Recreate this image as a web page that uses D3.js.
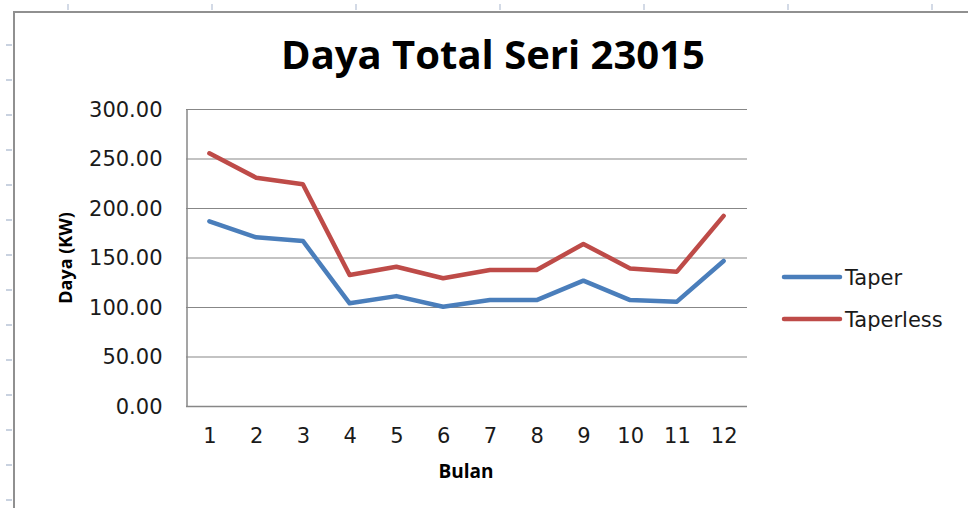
<!DOCTYPE html>
<html>
<head>
<meta charset="utf-8">
<script src="https://cdn.jsdelivr.net/npm/d3@7"></script>
<style>
  body { margin: 0; background: #fff; }
  svg { display: block; }
</style>
</head>
<body>
<svg width="968" height="508"></svg>
<script>
// data van de grafiek
var bulan = [1, 2, 3, 4, 5, 6, 7, 8, 9, 10, 11, 12];
var taper = [186.6, 170.4, 166.7, 103.7, 111.0, 100.3, 107.0, 107.0, 126.6, 107.0, 105.4, 146.5];
var taperless = [255.2, 230.6, 224.0, 132.3, 140.7, 129.0, 137.4, 137.4, 163.6, 139.0, 135.7, 192.0];
var yTicks = [0, 50, 100, 150, 200, 250, 300];
var seriesNames = ["Taper", "Taperless"];
var seriesColors = ["#4a7ebb", "#be4b48"];

var svg = d3.select("svg"),
    plot = { left: 186, right: 747, top: 109, bottom: 406 };

// achtergrond van het werkblad (randjes en streepjes)
var sheet = svg.append("g");
sheet.selectAll("line.tx")
    .data(d3.range(68, 968, 144))
    .enter().append("line")
    .attr("x1", function (d) { return d; })
    .attr("x2", function (d) { return d; })
    .attr("y1", 4).attr("y2", 10)
    .attr("stroke", "#d3dae6").attr("stroke-width", 2);
sheet.selectAll("line.ty")
    .data(d3.range(45, 508, 35))
    .enter().append("line")
    .attr("x1", 6).attr("x2", 12)
    .attr("y1", function (d) { return d; })
    .attr("y2", function (d) { return d; })
    .attr("stroke", "#c9d2e0").attr("stroke-width", 2);
sheet.append("path")
    .attr("d", "M14,508V12H968")
    .attr("fill", "none")
    .attr("stroke", "#909090")
    .attr("stroke-width", 2);

var x = d3.scalePoint()
    .domain(bulan)
    .range([plot.left, plot.right])
    .padding(0.5);

var y = d3.scaleLinear()
    .domain([0, 300])
    .range([plot.bottom, plot.top]);

// gridlijnen
svg.append("g")
    .selectAll("line")
    .data(yTicks)
    .enter().append("line")
    .attr("x1", plot.left).attr("x2", plot.right)
    .attr("y1", function (d) { return y(d) + 0.5; })
    .attr("y2", function (d) { return y(d) + 0.5; })
    .attr("stroke", "#878787").attr("stroke-width", 1.2);

// y as
var yAxis = svg.append("g")
    .attr("transform", "translate(" + (plot.left + 0.5) + ",0.5)")
    .call(d3.axisLeft(y).tickValues(yTicks).tickSize(0).tickPadding(24).tickFormat(d3.format(".2f")));
yAxis.select(".domain").attr("stroke", "#878787").attr("stroke-width", 1.5);
yAxis.selectAll("text")
    .attr("font-family", "DejaVu Sans")
    .attr("font-size", 21)
    .attr("fill", "#1a1a1a");

// x as
var xAxis = svg.append("g")
    .attr("transform", "translate(0," + (plot.bottom + 0.5) + ")")
    .call(d3.axisBottom(x).tickSize(0).tickPadding(22).tickSizeOuter(0));
xAxis.select(".domain").attr("stroke", "#878787").attr("stroke-width", 1.5)
    .attr("d", "M" + plot.left + ",0H" + plot.right);
xAxis.selectAll("text")
    .attr("font-family", "DejaVu Sans")
    .attr("font-size", 21)
    .attr("fill", "#1a1a1a");

// lijnen
var line = d3.line()
    .x(function (d, i) { return x(bulan[i]); })
    .y(function (d) { return y(d); });

[taper, taperless].forEach(function (s, i) {
    svg.append("path")
        .datum(s)
        .attr("d", line)
        .attr("fill", "none")
        .attr("stroke", seriesColors[i])
        .attr("stroke-width", 4.5)
        .attr("stroke-linejoin", "round")
        .attr("stroke-linecap", "round");
});

// titels
svg.append("text")
    .attr("x", 493).attr("y", 69)
    .attr("text-anchor", "middle")
    .attr("font-family", "Open Sans")
    .attr("font-weight", "bold")
    .attr("font-size", 40)
    .attr("fill", "#000")
    .text("Daya Total Seri 23015");

svg.append("text")
    .attr("transform", "translate(72,258) rotate(-90)")
    .attr("text-anchor", "middle")
    .attr("font-family", "Open Sans")
    .attr("font-weight", "bold")
    .attr("font-size", 18)
    .attr("fill", "#000")
    .text("Daya  (KW)");

svg.append("text")
    .attr("x", 466).attr("y", 478)
    .attr("text-anchor", "middle")
    .attr("font-family", "Open Sans")
    .attr("font-weight", "bold")
    .attr("font-size", 19)
    .attr("fill", "#000")
    .text("Bulan");

// legenda
var legend = svg.append("g")
    .selectAll("g")
    .data(seriesNames)
    .enter().append("g")
    .attr("transform", function (d, i) { return "translate(784," + (277 + i * 42) + ")"; });

legend.append("line")
    .attr("x1", 0).attr("x2", 56)
    .attr("stroke", function (d, i) { return seriesColors[i]; })
    .attr("stroke-width", 4.5)
    .attr("stroke-linecap", "round");

legend.append("text")
    .attr("x", 61)
    .attr("dy", "0.36em")
    .attr("font-family", "DejaVu Sans")
    .attr("font-size", 21)
    .attr("fill", "#1a1a1a")
    .text(function (d) { return d; });
</script>
</body>
</html>
